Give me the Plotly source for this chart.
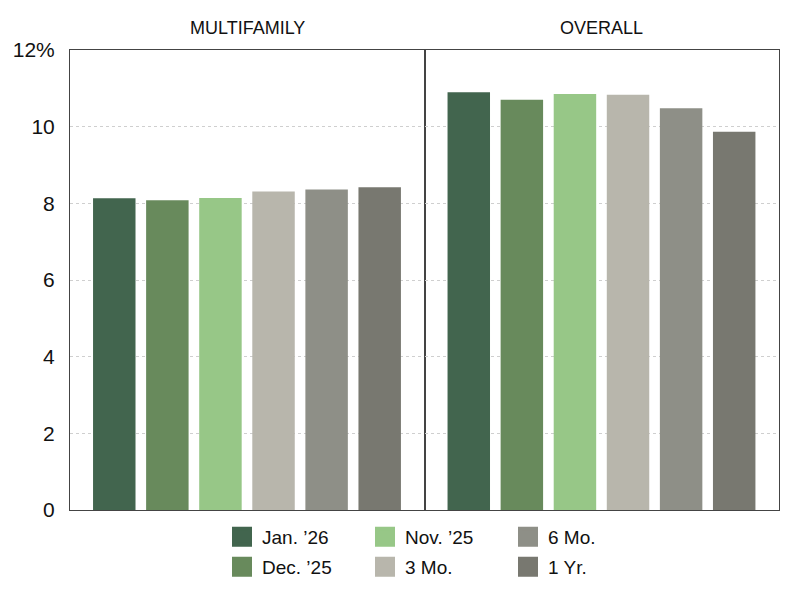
import plotly.graph_objects as go
from plotly.subplots import make_subplots

series = ["Jan. \u201926", "Dec. \u201925", "Nov. \u201925", "3 Mo.", "6 Mo.", "1 Yr."]
colors = ["#42654e", "#688a5c", "#97c787", "#b8b6ac", "#8e8f87", "#787870"]
panels = ["MULTIFAMILY", "OVERALL"]
multifamily = [8.13, 8.08, 8.14, 8.31, 8.36, 8.42]
overall = [10.90, 10.70, 10.85, 10.83, 10.48, 9.87]
ytick_vals = [0, 2, 4, 6, 8, 10, 12]
ytick_text = ["0", "2", "4", "6", "8", "10", "12%"]

FONT = "Liberation Sans, Arial, Helvetica, sans-serif"

fig = make_subplots(rows=1, cols=2, horizontal_spacing=0, shared_yaxes=True)

positions = list(range(len(series)))
for col, vals in enumerate([multifamily, overall], start=1):
    fig.add_trace(go.Bar(x=positions, y=vals, marker=dict(color=colors, line=dict(width=0)),
                         width=0.8, showlegend=False, hoverinfo="y"), row=1, col=col)

# legend entries: row 1 -> Jan, Nov, 6 Mo ; row 2 -> Dec, 3 Mo, 1 Yr
legend_rows = {0: "legend", 2: "legend", 4: "legend", 1: "legend2", 3: "legend2", 5: "legend2"}
order = [0, 2, 4, 1, 3, 5]
for i in order:
    fig.add_trace(go.Scatter(x=[None], y=[None], mode="markers", name=series[i],
                             marker=dict(symbol="square", size=16, color=colors[i],
                                         line=dict(color=colors[i], width=4)),
                             legend=legend_rows[i]), row=1, col=1)

for c in (1, 2):
    fig.update_xaxes(range=[-0.834, 5.844], showticklabels=False, ticks="", showgrid=False,
                     zeroline=False, showline=True, linecolor="#444", linewidth=1, mirror=True,
                     row=1, col=c)
    fig.update_yaxes(range=[0, 12], tickvals=ytick_vals, showgrid=True, gridcolor="#cfcfcf",
                     griddash="dot", gridwidth=1, zeroline=False, showline=True,
                     linecolor="#444", linewidth=1, mirror=True, row=1, col=c)

fig.update_yaxes(ticktext=ytick_text, ticks="outside", ticklen=10, tickcolor="rgba(0,0,0,0)",
                 tickfont=dict(size=21, color="#111", family=FONT), row=1, col=1)
fig.update_yaxes(showticklabels=False, row=1, col=2)

for k, name in enumerate(panels):
    fig.add_annotation(text=name, x=0.25 + 0.5 * k, y=1, xref="paper", yref="paper",
                       xanchor="center", yanchor="bottom", yshift=10, showarrow=False,
                       font=dict(size=18, color="#111", family=FONT))

leg_common = dict(orientation="h", xanchor="left", x=(222 - 70) / 709, yanchor="middle",
                  entrywidth=98, entrywidthmode="pixels", itemwidth=30,
                  font=dict(size=19, color="#111", family=FONT), bgcolor="rgba(0,0,0,0)",
                  tracegroupgap=0)
fig.update_layout(
    width=800, height=600,
    margin=dict(l=70, r=21, t=50, b=90),
    plot_bgcolor="white", paper_bgcolor="white",
    bargap=0.2,
    font=dict(family=FONT, color="#111"),
    legend=dict(**leg_common, y=-(537 - 510) / 460),
    legend2=dict(**leg_common, y=-(567 - 510) / 460),
)

fig.write_html("out.html")
